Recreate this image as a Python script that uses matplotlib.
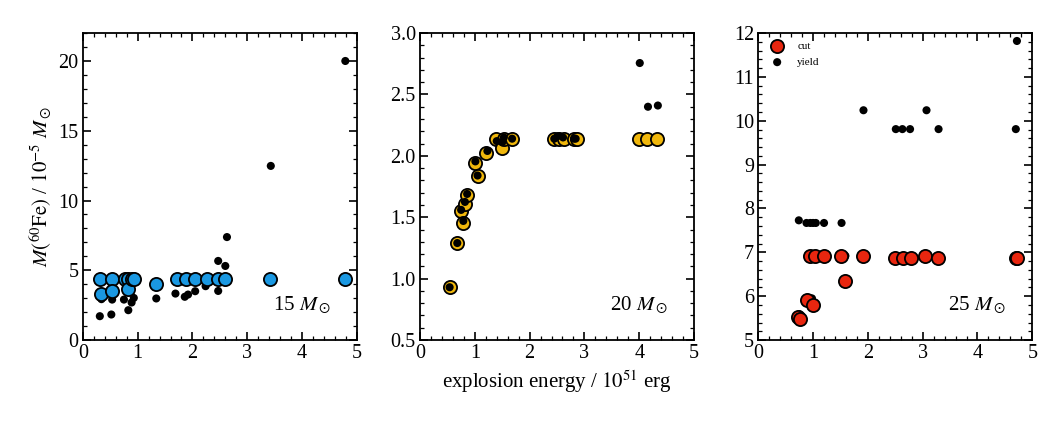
import matplotlib
matplotlib.use('Agg')
import matplotlib.pyplot as plt
from matplotlib.ticker import MultipleLocator, FormatStrFormatter

plt.rcParams['font.family'] = ['Liberation Serif', 'DejaVu Serif']
plt.rcParams['mathtext.fontset'] = 'stix'

# 15 Msun
e15_cut = [0.31, 0.33, 0.53, 0.54, 0.77, 0.83, 0.83, 0.89, 0.94, 1.34, 1.71, 1.89, 2.05,
           2.26, 2.47, 2.60, 3.42, 4.79]
m15_cut = [4.4, 3.33, 4.4, 3.52, 4.4, 4.4, 3.69, 4.4, 4.4, 4.05, 4.4, 4.4, 4.4,
           4.4, 4.4, 4.4, 4.4, 4.4]
e15_yield = [0.31, 0.34, 0.52, 0.535, 0.75, 0.83, 0.89, 0.93, 1.34, 1.69, 1.86, 1.92, 2.05,
             2.24, 2.47, 2.47, 2.60, 2.63, 3.43, 4.79]
m15_yield = [1.71, 2.93, 1.83, 2.9, 2.9, 2.14, 2.69, 3.02, 2.98, 3.33, 3.1, 3.26, 3.5,
             3.86, 3.52, 5.67, 5.31, 7.38, 12.48, 20.0]

# 20 Msun
e20_cut = [0.54, 0.67, 0.75, 0.79, 0.82, 0.85, 1.00, 1.05, 1.21, 1.39, 1.50, 1.53, 1.68,
           2.44, 2.53, 2.62, 2.81, 2.87, 4.00, 4.15, 4.33]
m20_cut = [0.93, 1.29, 1.553, 1.455, 1.61, 1.68, 1.94, 1.835, 2.02, 2.14, 2.06, 2.14, 2.14,
           2.14, 2.14, 2.14, 2.14, 2.14, 2.14, 2.14, 2.14]
e20_yield = [0.54, 0.68, 0.75, 0.79, 0.82, 0.86, 1.01, 1.05, 1.23, 1.40, 1.50, 1.53, 1.68,
             2.45, 2.51, 2.61, 2.81, 2.84, 4.01, 4.16, 4.34]
m20_yield = [0.93, 1.29, 1.56, 1.47, 1.625, 1.69, 1.955, 1.84, 2.04, 2.12, 2.11, 2.15, 2.14,
             2.14, 2.16, 2.15, 2.14, 2.14, 2.756, 2.40, 2.41]

# 25 Msun
e25_cut = [0.73, 0.76, 0.89, 0.99, 0.94, 1.04, 1.20, 1.51, 1.59, 1.92, 2.50, 2.64, 2.78,
           3.05, 3.28, 4.70, 4.72]
m25_cut = [5.52, 5.47, 5.91, 5.80, 6.91, 6.91, 6.91, 6.91, 6.35, 6.91, 6.86, 6.86, 6.86,
           6.91, 6.86, 6.86, 6.86]
e25_yield = [0.75, 0.74, 0.89, 0.98, 0.88, 0.95, 1.00, 1.05, 1.20, 1.52, 1.59, 1.92, 2.51,
             2.63, 2.77, 3.07, 3.29, 4.70, 4.72]
m25_yield = [5.59, 7.73, 5.93, 5.95, 7.67, 7.67, 7.67, 7.67, 7.67, 7.67, 6.92, 10.24, 9.81,
             9.81, 9.81, 10.24, 9.81, 9.81, 11.82]

panels = [
    (e15_cut, m15_cut, e15_yield, m15_yield, '#1a98e2', (0, 22), 5, 1, '15', False),
    (e20_cut, m20_cut, e20_yield, m20_yield, '#f0b70c', (0.5, 3.0), 0.5, 0.1, '20', True),
    (e25_cut, m25_cut, e25_yield, m25_yield, '#e8260f', (5, 12), 1, 0.2, '25', False),
]

fig = plt.figure(figsize=(10.62, 4.24), dpi=100)
lefts = [0.078, 0.3955, 0.714]

for i, (ec, mc, ey, my, col, ylim, ymaj, ymin, mass, yield_top) in enumerate(panels):
    ax = fig.add_axes([lefts[i], 0.198, 0.258, 0.724])
    zc, zy = (2, 3) if yield_top else (3, 2)
    ax.scatter(ec, mc, s=90, c=col, edgecolors='black', linewidths=1.3, zorder=zc, label='cut')
    ax.scatter(ey, my, s=34, c='black', edgecolors='none', zorder=zy, label='yield')
    ax.set_xlim(0, 5)
    ax.set_ylim(*ylim)
    ax.xaxis.set_major_locator(MultipleLocator(1))
    ax.xaxis.set_minor_locator(MultipleLocator(0.2))
    ax.yaxis.set_major_locator(MultipleLocator(ymaj))
    ax.yaxis.set_minor_locator(MultipleLocator(ymin))
    if mass == '20':
        ax.yaxis.set_major_formatter(FormatStrFormatter('%.1f'))
    ax.tick_params(which='both', direction='in', top=True, right=True, labelsize=14.5, pad=3)
    ax.tick_params(which='major', length=6, width=1.2)
    ax.tick_params(which='minor', length=3, width=0.9)
    for sp in ax.spines.values():
        sp.set_linewidth(1.3)
    ax.text(0.80, 0.114, mass + r' $M_\odot$', transform=ax.transAxes,
            ha='center', va='center', fontsize=15)
    if i == 0:
        ax.set_ylabel(r'$M(^{60}\mathrm{Fe})$ / $10^{-5}$ $M_\odot$', fontsize=15)
    if i == 1:
        ax.set_xlabel(r'explosion energy / $10^{51}$ erg', fontsize=15)
    if i == 2:
        ax.legend(loc='upper left', frameon=False, fontsize=8, handletextpad=0.8,
                  borderaxespad=0.3, labelspacing=0.6)

fig.savefig('out.png', dpi=100)
